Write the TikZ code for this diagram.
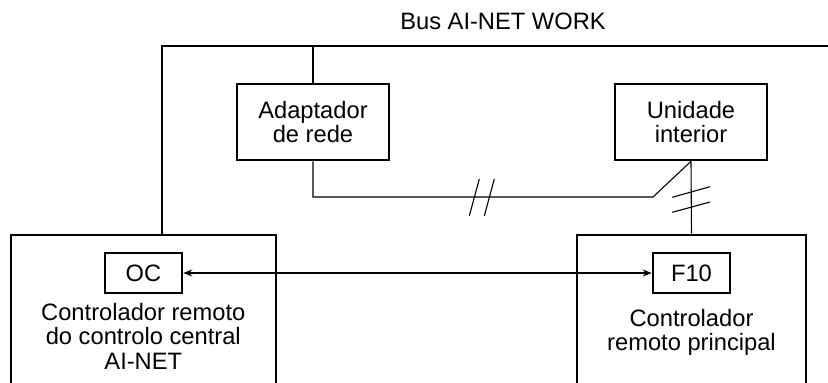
\documentclass[tikz,border=0pt]{standalone}
\usepackage{fontspec}
\setmainfont{Liberation Sans}
\usetikzlibrary{arrows.meta}
\begin{document}
\begin{tikzpicture}[x=1pt,y=-1pt,
  box/.style={draw,line width=2.6pt,rectangle,inner sep=0pt,anchor=center},
  lbl/.style={align=center,inner sep=0pt,font=\fontsize{23.7}{24.5}\selectfont},
  wire/.style={line width=1.1pt},
  tick/.style={line width=1.1pt}]
\useasboundingbox (0,0) rectangle (828,383);
\clip (0,0) rectangle (828,383);
% boxes
\node[box,minimum width=152pt,minimum height=76pt,lbl] (adapt) at (313,122) {Adaptador\\de rede};
\node[box,minimum width=152pt,minimum height=76pt,lbl] (unid) at (691,122) {Unidade\\interior};
\node[box,minimum width=265pt,minimum height=170pt] (left) at (143.3,320) {};
\node[box,minimum width=229pt,minimum height=170pt] (right) at (691.5,320) {};
\node[box,minimum width=77pt,minimum height=40pt,lbl] (oc) at (143.5,273) {OC};
\node[box,minimum width=77pt,minimum height=40pt,lbl] (f10) at (691.5,273) {F10};
\node[lbl,anchor=north] (ltext) at (143.3,303) {Controlador remoto\\do controlo central\\AI-NET};
\node[lbl,anchor=north] (rtext) at (691.5,309) {Controlador\\remoto principal};
\node[lbl] (bus) at (503,21) {Bus AI-NET WORK};
% bus
\coordinate (busL) at (162,46);
\coordinate (busR) at (830,46);
\draw[wire] (left.north -| busL) -- (busL) -- (busR);
\draw[wire] (adapt.north) -- (adapt.north |- busL);
% adapter to indoor unit
\coordinate (a1) at (313,197);
\coordinate (a2) at (653,197);
\draw[wire] (adapt.south) -- (a1) -- (a2) -- (unid.south);
\draw[wire] (unid.south) -- (right.north);
% slashes
\draw[tick] (469.3,216) -- (479.3,179);
\draw[tick] (484.3,216) -- (494.3,179);
\draw[tick] (672.3,197.3) -- (710,186.7);
\draw[tick] (672.3,212.3) -- (710,202);
% arrow
\draw[wire,{Stealth[length=9pt,width=7pt]}-{Stealth[length=9pt,width=7pt]}] (oc.east) -- (f10.west);
\end{tikzpicture}
\end{document}
